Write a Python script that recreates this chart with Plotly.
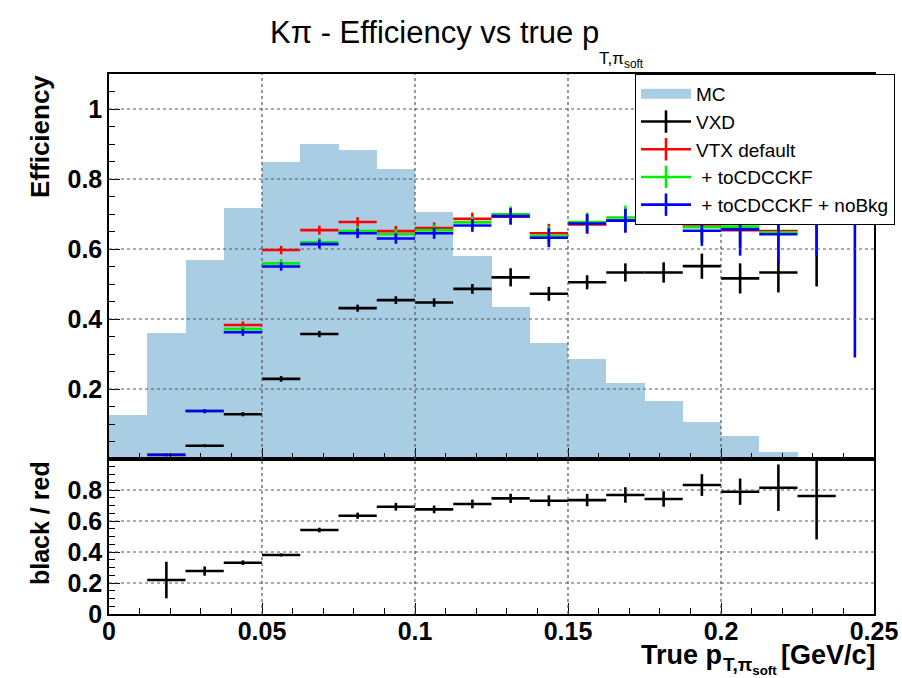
import plotly.graph_objects as go
from plotly.subplots import make_subplots

# Bin centres of the soft-pion pT histogram [GeV/c]
pt_centres = [0.00625, 0.01875, 0.03125, 0.04375, 0.05625, 0.06875, 0.08125, 0.09375,
              0.10625, 0.11875, 0.13125, 0.14375, 0.15625, 0.16875, 0.18125, 0.19375,
              0.20625, 0.21875, 0.23125, 0.24375]
bin_half_width = [0.00625] * 20

# MC truth distribution (arbitrary normalisation)
mc_shape = [0.126, 0.359, 0.569, 0.716, 0.848, 0.899, 0.883, 0.829, 0.705, 0.580,
            0.433, 0.332, 0.285, 0.216, 0.166, 0.107, 0.067, 0.021, 0.0, 0.0]

# Efficiencies and uncertainties
eff_vxd = [None, 0.003, 0.038, 0.128, 0.229, 0.357, 0.431, 0.454, 0.447, 0.486,
           0.519, 0.472, 0.505, 0.533, 0.533, 0.551, 0.516, 0.533, 0.683, None]
err_vxd = [0, 0.003, 0.004, 0.006, 0.008, 0.009, 0.010, 0.011, 0.012, 0.014,
           0.026, 0.020, 0.020, 0.026, 0.029, 0.036, 0.043, 0.057, 0.190, 0]

eff_vtx = [None, 0.012, 0.137, 0.383, 0.597, 0.654, 0.677, 0.651, 0.660, 0.686,
           0.692, 0.645, 0.670, 0.681, 0.715, 0.664, 0.654, 0.651, 0.890, None]
err_vtx = [0, 0.004, 0.006, 0.010, 0.012, 0.013, 0.014, 0.015, 0.016, 0.018,
           0.023, 0.027, 0.027, 0.034, 0.035, 0.043, 0.050, 0.083, 0.300, 0]

eff_cdc = [None, 0.012, 0.137, 0.371, 0.559, 0.619, 0.651, 0.642, 0.654, 0.676,
           0.699, 0.638, 0.677, 0.690, 0.718, 0.662, 0.664, 0.648, 0.880, None]
err_cdc = [0, 0.004, 0.006, 0.010, 0.012, 0.013, 0.014, 0.015, 0.016, 0.018,
           0.023, 0.027, 0.027, 0.034, 0.035, 0.043, 0.050, 0.083, 0.300, 0]

eff_nobkg = [None, 0.012, 0.137, 0.362, 0.550, 0.614, 0.645, 0.630, 0.645, 0.667,
             0.694, 0.632, 0.673, 0.681, 0.712, 0.652, 0.656, 0.642, 0.880, 0.850]
err_nobkg = [0, 0.004, 0.006, 0.010, 0.012, 0.013, 0.014, 0.015, 0.016, 0.018,
             0.023, 0.027, 0.027, 0.034, 0.035, 0.043, 0.075, 0.083, 0.300, 0.560]

# Ratio VXD / VTX default
ratio = [None, 0.219, 0.277, 0.331, 0.381, 0.542, 0.634, 0.692, 0.675, 0.710,
         0.746, 0.731, 0.735, 0.768, 0.742, 0.832, 0.789, 0.815, 0.761, None]
ratio_err = [0, 0.118, 0.030, 0.015, 0.010, 0.015, 0.020, 0.025, 0.025, 0.028,
             0.030, 0.035, 0.040, 0.050, 0.050, 0.070, 0.085, 0.150, 0.280, 0]

series_names = ["MC", "VXD", "VTX default", " + toCDCCKF", " + toCDCCKF + noBkg"]
series_colours = ["black", "#ff0000", "#00ee00", "#0000ff"]
mc_colour = "#a9cde3"

# axis tick positions
x_ticks = [0, 0.05, 0.1, 0.15, 0.2, 0.25]
x_ticklabels = ["0", "0.05", "0.1", "0.15", "0.2", "0.25"]
eff_ticks = [0.2, 0.4, 0.6, 0.8, 1.0]
eff_ticklabels = ["0.2", "0.4", "0.6", "0.8", "1"]
ratio_ticks = [0, 0.2, 0.4, 0.6, 0.8]
ratio_ticklabels = ["0", "0.2", "0.4", "0.6", "0.8"]

FONT = "Liberation Sans, Arial, Helvetica, sans-serif"
GRID = "#555555"
W, H = 902, 678

# pixel geometry of the plotting area
PX_L, PX_R, PX_T, PX_B = 109, 874, 74, 614

fig = make_subplots(rows=2, cols=1, shared_xaxes=True, vertical_spacing=0.0,
                    row_heights=[0.713, 0.287])

# MC histogram as filled bars
fig.add_trace(go.Bar(x=pt_centres, y=mc_shape, width=0.0125,
                     marker=dict(color=mc_colour, line_width=0),
                     showlegend=False, hoverinfo="skip"), row=1, col=1)
# legend swatch for the MC histogram
fig.add_trace(go.Scatter(x=[None], y=[None], mode="lines", name=series_names[0],
                         line=dict(color=mc_colour, width=20)), row=1, col=1)


def eff_trace(y, err, colour):
    return go.Scatter(x=pt_centres, y=y, mode="markers",
                      marker=dict(size=1, color=colour),
                      error_x=dict(type="data", array=bin_half_width, color=colour, thickness=2.6, width=0),
                      error_y=dict(type="data", array=err, color=colour, thickness=2.6, width=0),
                      showlegend=False, hoverinfo="skip")


fig.add_trace(eff_trace(eff_vxd, err_vxd, series_colours[0]), row=1, col=1)
fig.add_trace(eff_trace(eff_vtx, err_vtx, series_colours[1]), row=1, col=1)
fig.add_trace(eff_trace(eff_cdc, err_cdc, series_colours[2]), row=1, col=1)
fig.add_trace(eff_trace(eff_nobkg, err_nobkg, series_colours[3]), row=1, col=1)

# legend entries drawn as crosses
for nm, col in zip(series_names[1:], series_colours):
    fig.add_trace(go.Scatter(x=[None], y=[None], mode="lines+markers", name=nm,
                             line=dict(color=col, width=2.6),
                             marker=dict(symbol="line-ns", size=16, line=dict(color=col, width=2.6))),
                  row=1, col=1)

fig.add_trace(eff_trace(ratio, ratio_err, "black"), row=2, col=1)

axis_common = dict(showline=True, linecolor="black", linewidth=1.5, mirror=True,
                   ticks="inside", tickcolor="black", ticklen=11, tickwidth=1.2,
                   showgrid=False, zeroline=False,
                   tickfont=dict(family=FONT, size=25, color="black", weight="bold"))

fig.update_xaxes(range=[0, 0.25], tickvals=x_ticks, ticktext=x_ticklabels,
                 minor=dict(ticks="inside", dtick=0.01, ticklen=6, tickcolor="black", showgrid=False),
                 **axis_common)
fig.update_xaxes(showticklabels=False, row=1, col=1)
fig.update_xaxes(ticklabelstandoff=-6, row=2, col=1)

fig.update_yaxes(range=[0, 1.1], tickvals=eff_ticks, ticktext=eff_ticklabels,
                 minor=dict(ticks="inside", dtick=0.05, ticklen=6, tickcolor="black", showgrid=False),
                 row=1, col=1, **axis_common)
fig.update_yaxes(range=[0, 1.0], tickvals=ratio_ticks, ticktext=ratio_ticklabels,
                 minor=dict(ticks="inside", dtick=0.05, ticklen=6, tickcolor="black", showgrid=False),
                 row=2, col=1, **axis_common)

# dotted grid drawn over the histogram, as ROOT does
grid_line = dict(color=GRID, width=1.2, dash="dot")
for row, yticks, ymax in [(1, eff_ticks, 1.1), (2, ratio_ticks[1:], 1.0)]:
    for xv in x_ticks[1:-1]:
        fig.add_shape(type="line", x0=xv, x1=xv, y0=0, y1=ymax, line=grid_line,
                      layer="above", row=row, col=1)
    for yv in yticks:
        if yv < ymax:
            fig.add_shape(type="line", x0=0, x1=0.25, y0=yv, y1=yv, line=grid_line,
                          layer="above", row=row, col=1)

fig.update_layout(
    width=W, height=H,
    margin=dict(l=PX_L, r=W - PX_R, t=PX_T, b=H - PX_B, autoexpand=False),
    paper_bgcolor="white", plot_bgcolor="white",
    bargap=0,
    font=dict(family=FONT, color="black"),
    legend=dict(xref="container", yref="container",
                x=635 / W, y=1 - PX_T / H, xanchor="left", yanchor="top",
                bgcolor="white", bordercolor="black", borderwidth=1,
                font=dict(family=FONT, size=19, color="black"),
                tracegroupgap=0, itemwidth=50),
    showlegend=True,
)

ann = []
# title
ann.append(dict(text="Kπ - Efficiency vs true p", x=434, y=32, size=31))
ann.append(dict(text="T,π<sub>soft</sub>", x=597, y=60, size=17, anchor="left"))
# y titles
ann.append(dict(text="<b>Efficiency</b>", x=40, y=137, size=26, angle=-90))
ann.append(dict(text="<b>black / red</b>", x=40, y=523, size=25, angle=-90))
# x title
ann.append(dict(text="<b>True p</b>", x=681, y=655, size=27))
ann.append(dict(text="<b>T,π<sub>soft</sub></b>", x=721, y=666, size=19, anchor="left"))
ann.append(dict(text="<b>[GeV/c]</b>", x=828, y=655, size=27))

for a in ann:
    fig.add_annotation(text=a["text"], xref="paper", yref="paper",
                       x=(a["x"] - PX_L) / (PX_R - PX_L), y=(PX_B - a["y"]) / (PX_B - PX_T),
                       xanchor=a.get("anchor", "center"), yanchor="middle", showarrow=False,
                       textangle=a.get("angle", 0),
                       font=dict(family=FONT, color="black", size=a["size"]))

fig.write_html("out.html")
